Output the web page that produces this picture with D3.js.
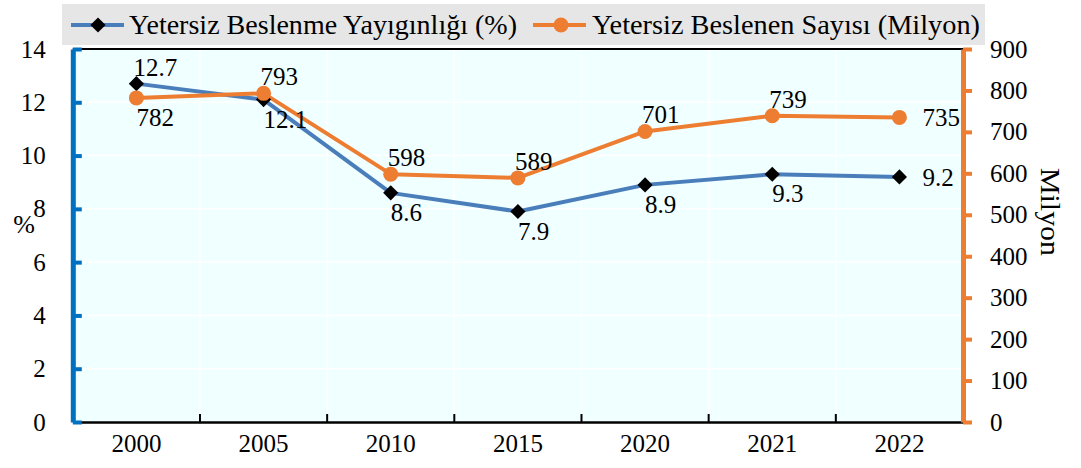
<!DOCTYPE html>
<html><head><meta charset="utf-8">
<script src="https://cdn.jsdelivr.net/npm/d3@7"></script>
<style>
body{margin:0;background:#fff;}
</style>
</head><body>
<svg id="c" width="1081" height="468" font-family="Liberation Serif"></svg>
<script>
// ---- data ----
const years = ["2000","2005","2010","2015","2020","2021","2022"];
const prevalence = [12.7,12.1,8.6,7.9,8.9,9.3,9.2];
const undernourished = [782,793,598,589,701,739,735];
const leftTicks = [0,2,4,6,8,10,12,14];
const rightTicks = [0,100,200,300,400,500,600,700,800,900];
const prevLabelPos = ["above","below","below","below","below","below","right"];
const undLabelPos  = ["below","above","above","above","above","above","right"];
const seriesNames = ["Yetersiz Beslenme Yayıgınlığı (%)","Yetersiz Beslenen Sayısı (Milyon)"];
const leftTitle = "%";
const rightTitle = "Milyon";

// ---- styles ----
const FONT = "Liberation Serif";
const BLUE_AXIS = "#0070c0", BLUE = "#4a7ebb", ORANGE = "#ed7d31";
const L = 72.8, R = 963, T = 49, B = 422;
const svg = d3.select("#c");

const x = d3.scaleBand().domain(years).range([L, R]).padding(0);
const yL = d3.scaleLinear().domain([0,14]).range([B, T]);
const yR = d3.scaleLinear().domain([0,900]).range([B, T]);
const cx = d => x(d) + x.bandwidth()/2;

// plot background
svg.append("rect").attr("x", L).attr("y", T).attr("width", R-L).attr("height", B-T).attr("fill", "#f0ffff");

// gridlines
svg.append("g").selectAll("line").data(leftTicks.filter(v => v>0 && v<14)).join("line")
  .attr("x1", L).attr("x2", R).attr("y1", d => yL(d)).attr("y2", d => yL(d))
  .attr("stroke", "#fff").attr("stroke-width", 1.5);
svg.append("g").selectAll("line").data(years.slice(1)).join("line")
  .attr("x1", d => x(d)).attr("x2", d => x(d)).attr("y1", T).attr("y2", B)
  .attr("stroke", "#fff").attr("stroke-width", 1.5);

// top border
svg.append("line").attr("x1", L).attr("x2", R).attr("y1", T).attr("y2", T).attr("stroke", "#000").attr("stroke-width", 2);

function styleText(sel, size) {
  sel.style("font-family", FONT).style("font-size", size + "px").attr("fill", "#000");
}

// x axis
const xa = svg.append("g").attr("transform", `translate(0,${B})`)
  .call(d3.axisBottom(x).tickSize(0).tickPadding(30));
xa.attr("font-family", FONT);
xa.select(".domain").attr("stroke", "#000").attr("stroke-width", 2.5);
styleText(xa.selectAll("text").attr("dy", "0"), 25);
const bounds = years.map(d => x(d)).concat([x.range()[1]]);
svg.append("g").selectAll("line").data(bounds).join("line")
  .attr("x1", d => d).attr("x2", d => d).attr("y1", B-8).attr("y2", B)
  .attr("stroke", "#000").attr("stroke-width", 2);

// left axis
const la = svg.append("g").attr("transform", `translate(${L},0)`)
  .call(d3.axisLeft(yL).tickValues(leftTicks).tickSize(-9).tickSizeOuter(0).tickPadding(27));
la.attr("font-family", FONT);
la.select(".domain").attr("stroke", BLUE_AXIS).attr("stroke-width", 5);
la.selectAll(".tick line").attr("stroke", BLUE_AXIS).attr("stroke-width", 4);
styleText(la.selectAll("text"), 25);

// right axis
const ra = svg.append("g").attr("transform", `translate(${R},0)`)
  .call(d3.axisRight(yR).tickValues(rightTicks).tickSize(9).tickSizeOuter(0).tickPadding(18));
ra.attr("font-family", FONT);
ra.select(".domain").attr("stroke", ORANGE).attr("stroke-width", 5);
ra.selectAll(".tick line").attr("stroke", ORANGE).attr("stroke-width", 4);
styleText(ra.selectAll("text"), 25);

// axis titles
styleText(svg.append("text").attr("x", 24).attr("y", 233).attr("text-anchor", "middle").text(leftTitle), 26);
styleText(svg.append("text").attr("transform", "translate(1050,212) rotate(90)").attr("text-anchor", "middle")
  .attr("dominant-baseline", "central").attr("textLength", 88).attr("lengthAdjust", "spacingAndGlyphs").text(rightTitle), 28);

// lines
const linePrev = d3.line().x((d,i) => cx(years[i])).y(d => yL(d));
const lineUnd = d3.line().x((d,i) => cx(years[i])).y(d => yR(d));
svg.append("path").datum(prevalence).attr("d", linePrev).attr("fill", "none").attr("stroke", BLUE).attr("stroke-width", 4).attr("stroke-linejoin", "round");
svg.append("path").datum(undernourished).attr("d", lineUnd).attr("fill", "none").attr("stroke", ORANGE).attr("stroke-width", 4).attr("stroke-linejoin", "round");

// markers
const diamond = d3.symbol().type(d3.symbolSquare).size(115);
svg.append("g").selectAll("path").data(prevalence).join("path")
  .attr("d", diamond).attr("transform", (d,i) => `translate(${cx(years[i])},${yL(d)}) rotate(45)`).attr("fill", "#000");
svg.append("g").selectAll("circle").data(undernourished).join("circle")
  .attr("cx", (d,i) => cx(years[i])).attr("cy", d => yR(d)).attr("r", 7.5).attr("fill", ORANGE);

// data labels
const off = {above:[-3,-8], below:[0,28], right:[23,9]};
function labels(vals, pos, scale, fmt) {
  styleText(svg.append("g").selectAll("text").data(vals).join("text")
    .attr("x", (d,i) => cx(years[i]) + off[pos[i]][0])
    .attr("y", (d,i) => scale(d) + off[pos[i]][1])
    .text(fmt), 25);
}
labels(prevalence, prevLabelPos, yL, d => d.toFixed(1));
labels(undernourished, undLabelPos, yR, d => d);

// legend
svg.append("rect").attr("x", 62).attr("y", 4).attr("width", 923).attr("height", 41).attr("fill", "#e7e6e6");
const lg = [{x0:71, color:BLUE, marker:"d", tx:129}, {x0:533, color:ORANGE, marker:"c", tx:592}];
lg.forEach((o,i) => {
  svg.append("line").attr("x1", o.x0).attr("x2", o.x0+53).attr("y1", 25).attr("y2", 25).attr("stroke", o.color).attr("stroke-width", 4);
  if (o.marker === "d") svg.append("path").attr("d", diamond).attr("transform", `translate(${o.x0+27},25) rotate(45)`).attr("fill", "#000");
  else svg.append("circle").attr("cx", o.x0+28).attr("cy", 25).attr("r", 7.5).attr("fill", ORANGE);
  styleText(svg.append("text").attr("x", o.tx).attr("y", 34)
    .attr("textLength", 388).attr("lengthAdjust", "spacingAndGlyphs").text(seriesNames[i]), 27);
});
</script>
</body></html>
